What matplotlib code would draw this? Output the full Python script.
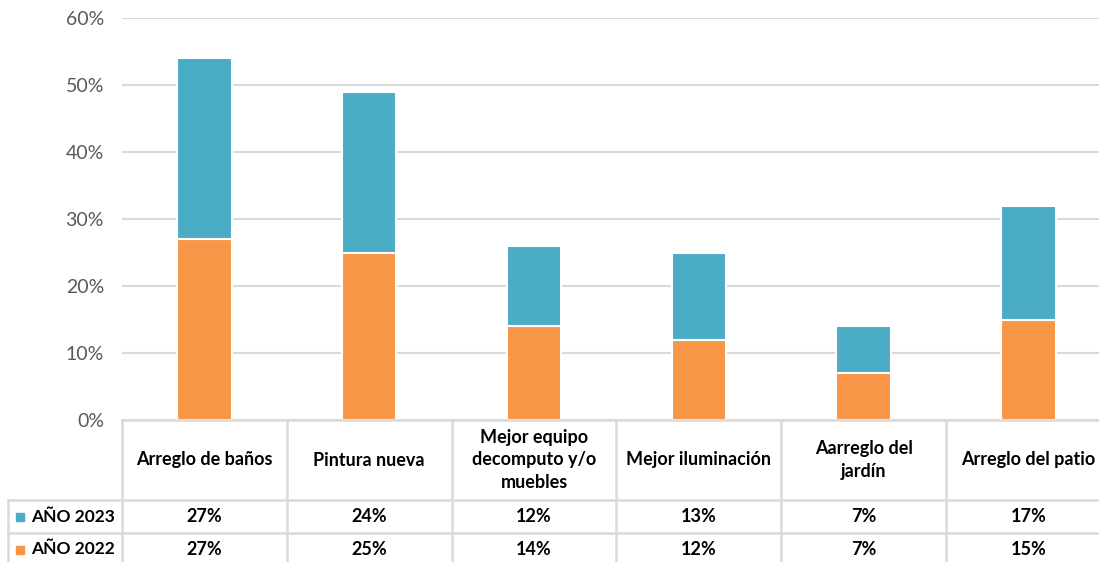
import matplotlib.pyplot as plt

plt.rcParams['font.family'] = ['Lato', 'DejaVu Sans']

# data
categorias = ['Arreglo de baños', 'Pintura nueva', 'Mejor equipo\ndecomputo y/o\nmuebles',
              'Mejor iluminación', 'Aarreglo del\njardín', 'Arreglo del patio']
anio_2022 = [27, 25, 14, 12, 7, 15]
anio_2023 = [27, 24, 12, 13, 7, 17]
series = ['AÑO 2023', 'AÑO 2022']
y_ticks = [0, 10, 20, 30, 40, 50, 60]

azul = '#4BACC6'
naranja = '#F79646'
gris = '#D9D9D9'

W, H = 1099, 562
fig = plt.figure(figsize=(W / 100, H / 100), dpi=100)

# plot area in pixels: x from 122, 6 columns of ~164.8 px, 0% at y=420, 60% at y=18
x0, colw = 122, 164.8
ax = fig.add_axes([x0 / W, (H - 420) / H, 6 * colw / W, 402 / H])
x = list(range(len(categorias)))
ax.bar(x, anio_2022, width=0.33, color=naranja, edgecolor='white', linewidth=1.5, zorder=3)
ax.bar(x, anio_2023, width=0.33, bottom=anio_2022, color=azul, edgecolor='white',
       linewidth=1.5, zorder=3)
ax.set_xlim(-0.5, 5.5)
ax.set_ylim(0, 60)
ax.set_yticks(y_ticks)
ax.set_yticklabels([f'{v}%' for v in y_ticks], fontsize=14, color='#595959')
ax.set_xticks([])
ax.tick_params(axis='y', length=0, pad=13)
ax.grid(axis='y', color=gris, linewidth=1.5, zorder=0)
for s in ax.spines.values():
    s.set_visible(False)

# data table below the plot
tab = fig.add_axes([x0 / W, (H - 566) / H, 6 * colw / W, 146 / H])
tab.set_xlim(-0.5, 5.5)
tab.set_ylim(146, 0)
tab.axis('off')
left = (8 - x0) / colw - 0.5
kw = dict(color=gris, linewidth=1.8, clip_on=False)
tab.plot([-0.5, 5.5], [0, 0], **kw)
for yy in [80, 113, 146]:
    tab.plot([left, 5.5], [yy, yy], **kw)
for i in range(7):
    tab.plot([i - 0.5, i - 0.5], [0, 146], **kw)
tab.plot([left, left], [80, 146], **kw)

for i, c in enumerate(categorias):
    tab.text(i, 40, c, ha='center', va='center', fontsize=13, fontweight='bold',
             linespacing=1.4, clip_on=False)
rows = [anio_2023, anio_2022]
colores = [azul, naranja]
for r, (nombre, vals, col) in enumerate(zip(series, rows, colores)):
    yc = 96.5 + 33 * r
    for i, v in enumerate(vals):
        tab.text(i, yc, f'{v}%', ha='center', va='center', fontsize=13, fontweight='bold')
    tab.plot([(20 - x0) / colw - 0.5], [yc], marker='s', markersize=6, color=col, clip_on=False)
    tab.text((31 - x0) / colw - 0.5, yc, nombre, ha='left', va='center', fontsize=12.5,
             fontweight='bold', clip_on=False)

fig.savefig('out.png', dpi=100)
